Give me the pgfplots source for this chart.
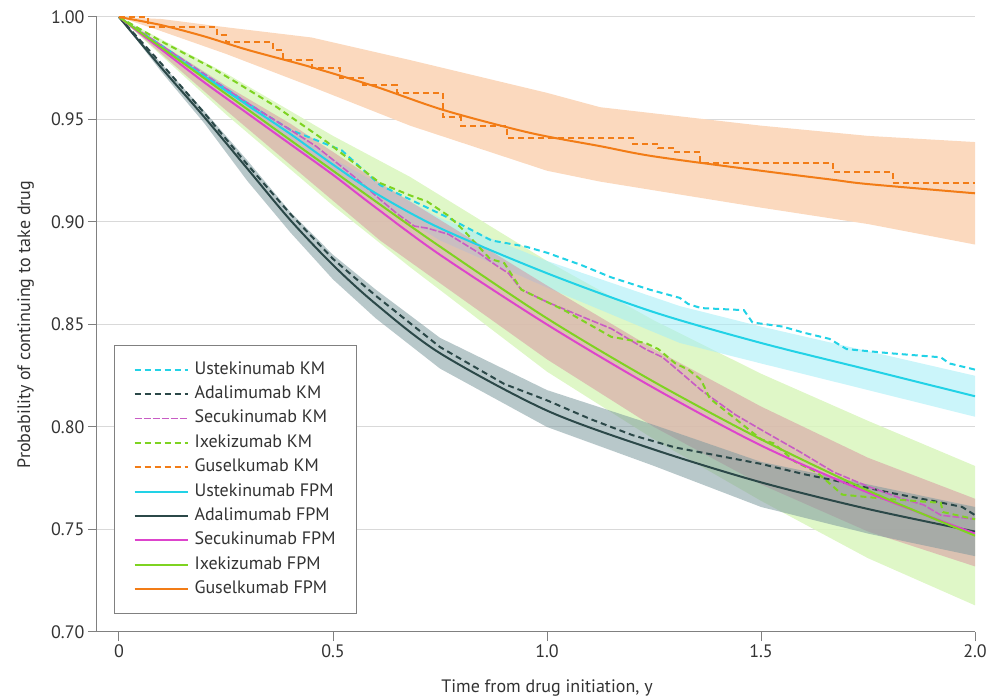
\documentclass[border=0pt]{standalone}
\usepackage{fontspec}
\setmainfont{PT Sans}
\usepackage{pgfplots}
\pgfplotsset{compat=1.18}
\definecolor{ust}{HTML}{22D2E6}
\definecolor{ada}{HTML}{2B4848}
\definecolor{sec}{HTML}{DD44CC}
\definecolor{seckm}{HTML}{C85CC4}
\definecolor{ixe}{HTML}{7ED321}
\definecolor{gus}{HTML}{F27C16}
\definecolor{gusband}{HTML}{FBD9BE}
\definecolor{ixeband}{HTML}{D9F6BD}
\definecolor{ustband}{HTML}{A9EEF7}
\definecolor{secband}{HTML}{D8829A}
\definecolor{adaband}{HTML}{7E9A9F}
\definecolor{txt}{HTML}{333333}
\begin{document}
\begin{tikzpicture}
\useasboundingbox (-97pt,-66pt) rectangle (896pt,632pt);
\begin{axis}[
  scale only axis, width=878pt, height=615pt,
  xmin=-0.0514, xmax=2.0, ymin=0.70, ymax=1.00,
  axis x line=bottom, axis y line=left,
  axis line style={-, draw=gray, line width=1pt},
  xtick={0,0.5,1,1.5,2}, xticklabels={0,0.5,1.0,1.5,2.0},
  ytick={0.70,0.75,0.80,0.85,0.90,0.95,1.00},
  yticklabels={0.70,0.75,0.80,0.85,0.90,0.95,1.00},
  ymajorgrids, grid style={draw=gray!30, line width=1pt},
  tick align=outside, major tick length=9pt,
  tick style={draw=gray, line width=1pt},
  ticklabel style={font=\fontsize{18}{21}\selectfont, text=txt},
  xlabel={Time from drug initiation, y},
  ylabel={Probability of continuing to take drug},
  label style={font=\fontsize{18}{21}\selectfont, text=txt},
  xlabel style={at={(axis cs:1.0,0.70)}, anchor=base, yshift=-60pt},
  ylabel style={at={(rel axis cs:-0.0763,0.5)}, anchor=base},
  legend style={at={(rel axis cs:0.0194,0.4667)}, anchor=north west,
    draw=gray, line width=1pt, fill=white,
    font=\fontsize{18}{21}\selectfont, text=txt,
    row sep=0pt, inner xsep=19pt, inner ysep=12pt,
    nodes={text height=13pt, text depth=4pt, inner ysep=3.7pt},
    /tikz/every odd column/.append style={column sep=4pt}},
  legend cell align=left,
  legend image code/.code={\draw[#1] (0pt,0pt) -- (53pt,0pt);},
]
% bands
\addplot[fill=gusband, draw=none, forget plot] coordinates {
(0,1.0) (0.1,0.999) (0.25,0.995) (0.45,0.990) (0.68,0.979) (1.0,0.963) (1.124,0.956) (1.5,0.947) (1.75,0.942) (2.0,0.939)
(2.0,0.889) (1.75,0.899) (1.5,0.907) (1.124,0.9197) (1.0,0.925) (0.68,0.947) (0.45,0.966) (0.25,0.982) (0.1,0.993) (0,1.0)} -- cycle;
\addplot[fill=ixeband, fill opacity=0.85, draw=none, forget plot] coordinates {
(0,1.0) (0.25,0.9725) (0.5,0.942) (0.68,0.922) (1.0,0.881) (1.25,0.852) (1.5,0.826) (1.75,0.803) (2.0,0.781)
(2.0,0.713) (1.75,0.736) (1.5,0.764) (1.25,0.794) (1.0,0.827) (0.68,0.878) (0.5,0.908) (0.25,0.9525) (0,1.0)} -- cycle;
\addplot[fill=ustband, fill opacity=0.6, draw=none, forget plot] coordinates {
(0,1.0) (0.25,0.966) (0.5,0.931) (0.75,0.902) (1.0,0.881) (1.31,0.859) (1.5,0.849) (1.75,0.837) (2.0,0.825)
(2.0,0.805) (1.75,0.818) (1.5,0.831) (1.31,0.841) (1.0,0.868) (0.75,0.891) (0.5,0.923) (0.25,0.962) (0,1.0)} -- cycle;
\addplot[fill=secband, fill opacity=0.45, draw=none, forget plot] coordinates {
(0,1.0) (0.25,0.9665) (0.4,0.948) (0.61,0.919) (1.0,0.869) (1.25,0.838) (1.5,0.810) (1.75,0.785) (2.0,0.765)
(2.0,0.732) (1.75,0.749) (1.5,0.772) (1.25,0.800) (1.0,0.833) (0.61,0.891) (0.4,0.928) (0.25,0.9545) (0,1.0)} -- cycle;
\addplot[fill=adaband, fill opacity=0.55, draw=none, forget plot] coordinates {
(0,1.0) (0.1,0.977) (0.2,0.954) (0.3,0.930) (0.4,0.905) (0.5,0.884) (0.6,0.867) (0.75,0.8435) (1.0,0.818) (1.25,0.801) (1.5,0.783) (1.75,0.772) (2.0,0.761)
(2.0,0.737) (1.75,0.748) (1.5,0.761) (1.25,0.781) (1.0,0.800) (0.75,0.8285) (0.6,0.853) (0.5,0.872) (0.4,0.895) (0.3,0.920) (0.2,0.948) (0.1,0.973) (0,1.0)} -- cycle;
% KM curves
\addplot[ust, line width=2pt, dash pattern=on 6pt off 4pt] coordinates {
(0,1) (0.1,0.986) (0.2,0.972) (0.3,0.958) (0.4,0.945) (0.52,0.935) (0.61,0.918) (0.7,0.909) (0.77,0.902) (0.87,0.891) (0.95,0.888) (1.0,0.885) (1.08,0.879) (1.15,0.873) (1.24,0.867) (1.31,0.863) (1.33,0.860) (1.36,0.858) (1.46,0.857) (1.48,0.851) (1.55,0.849) (1.6,0.846) (1.66,0.843) (1.70,0.838) (1.8,0.836) (1.86,0.835) (1.92,0.834) (1.94,0.831) (2.0,0.828)};
\addlegendentry{Ustekinumab KM}
\addplot[ada, line width=2pt, dash pattern=on 6pt off 4pt] coordinates {
(0,1) (0.1,0.977) (0.2,0.953) (0.3,0.928) (0.4,0.904) (0.5,0.882) (0.6,0.864) (0.75,0.839) (0.9,0.821) (1.0,0.813) (1.1,0.804) (1.2,0.796) (1.3,0.790) (1.4,0.786) (1.5,0.782) (1.6,0.777) (1.67,0.774) (1.8,0.768) (1.9,0.764) (1.97,0.761) (2.0,0.757)};
\addlegendentry{Adalimumab KM}
\addplot[seckm, line width=1.6pt, dash pattern=on 7pt off 2pt] coordinates {
(0,1) (0.1,0.986) (0.2,0.972) (0.3,0.958) (0.4,0.945) (0.46,0.937) (0.55,0.922) (0.61,0.911) (0.65,0.904) (0.69,0.898) (0.72,0.897) (0.77,0.894) (0.84,0.885) (0.88,0.879) (0.91,0.875) (0.94,0.867) (1.0,0.861) (1.08,0.854) (1.15,0.848) (1.23,0.838) (1.27,0.834) (1.31,0.827) (1.36,0.818) (1.44,0.806) (1.51,0.7975) (1.59,0.788) (1.67,0.778) (1.75,0.771) (1.83,0.765) (1.88,0.762) (1.92,0.757) (2.0,0.755)};
\addlegendentry{Secukinumab KM}
\addplot[ixe, line width=2pt, dash pattern=on 6pt off 4pt] coordinates {
(0,1) (0.1,0.988) (0.213,0.9757) (0.275,0.968) (0.369,0.956) (0.486,0.939) (0.61,0.919) (0.68,0.913) (0.72,0.910) (0.77,0.903) (0.805,0.896) (0.867,0.882) (0.9,0.880) (0.94,0.867) (1.04,0.857) (1.15,0.844) (1.23,0.841) (1.26,0.838) (1.30,0.831) (1.33,0.828) (1.36,0.823) (1.38,0.814) (1.44,0.804) (1.5,0.794) (1.53,0.792) (1.58,0.783) (1.63,0.778) (1.69,0.767) (1.79,0.765) (1.92,0.763) (1.925,0.7585) (2.0,0.755)};
\addlegendentry{Ixekizumab KM}
\addplot[gus, line width=2pt, dash pattern=on 6pt off 4pt, const plot] coordinates {
(0,1.000) (0.068,0.995) (0.23,0.991) (0.25,0.988) (0.36,0.984) (0.383,0.979) (0.45,0.975) (0.516,0.970) (0.57,0.967) (0.65,0.963) (0.757,0.951) (0.80,0.947) (0.906,0.941) (1.2,0.938) (1.26,0.936) (1.30,0.934) (1.357,0.929) (1.668,0.9245) (1.808,0.919) (2.0,0.919)};
\addlegendentry{Guselkumab KM}
% FPM curves
\addplot[ust, line width=2pt, smooth] coordinates {
(0,1.0) (0.1,0.985) (0.2,0.971) (0.3,0.957) (0.4,0.943) (0.5,0.928) (0.6,0.914) (0.75,0.897) (1.0,0.875) (1.25,0.856) (1.5,0.841) (1.75,0.828) (2.0,0.815)};
\addlegendentry{Ustekinumab FPM}
\addplot[ada, line width=2pt, smooth] coordinates {
(0,1) (0.1,0.975) (0.2,0.951) (0.3,0.926) (0.4,0.901) (0.5,0.879) (0.6,0.860) (0.75,0.836) (1.0,0.808) (1.25,0.789) (1.5,0.773) (1.75,0.760) (2.0,0.749)};
\addlegendentry{Adalimumab FPM}
\addplot[sec, line width=2pt, smooth] coordinates {
(0,1) (0.1,0.984) (0.2,0.968) (0.3,0.953) (0.4,0.938) (0.5,0.923) (0.6,0.907) (0.75,0.884) (1.0,0.850) (1.25,0.819) (1.5,0.791) (1.75,0.768) (2.0,0.748)};
\addlegendentry{Secukinumab FPM}
\addplot[ixe, line width=2pt, smooth] coordinates {
(0,1) (0.1,0.985) (0.2,0.970) (0.3,0.955) (0.4,0.940) (0.5,0.925) (0.6,0.910) (0.75,0.888) (1.0,0.853) (1.25,0.822) (1.5,0.794) (1.75,0.769) (2.0,0.747)};
\addlegendentry{Ixekizumab FPM}
\addplot[gus, line width=2pt, smooth] coordinates {
(0,1.0) (0.1,0.996) (0.2,0.9905) (0.3,0.984) (0.45,0.9755) (0.6,0.966) (0.76,0.9545) (0.96,0.9435) (1.124,0.937) (1.25,0.932) (1.5,0.925) (1.668,0.9206) (1.75,0.9185) (2.0,0.914)};
\addlegendentry{Guselkumab FPM}
\end{axis}
\end{tikzpicture}
\end{document}
